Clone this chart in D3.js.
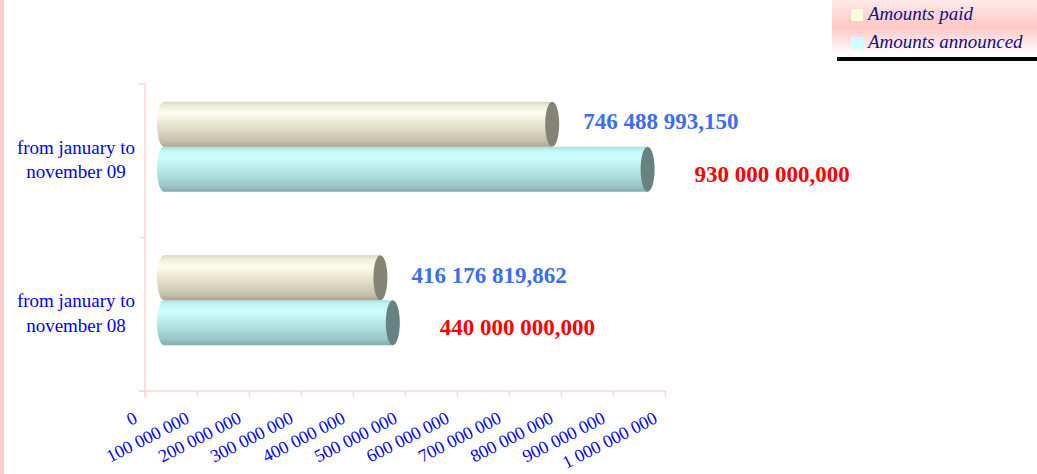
<!DOCTYPE html>
<html>
<head>
<meta charset="utf-8">
<script src="https://cdn.jsdelivr.net/npm/d3@7"></script>
<style>
  body { margin: 0; background: #fff; }
  svg { display: block; }
</style>
</head>
<body>
<div id="chart"></div>
<script>
var widthsvg = 1037;
var heightsvg = 474;

// data
var categories = ["from january to november 09", "from january to november 08"];
var categoryLines = [["from january to", "november 09"], ["from january to", "november 08"]];
var seriesNames = ["Amounts paid", "Amounts announced"];
var paidValues = [746488993.150, 416176819.862];
var announcedValues = [930000000, 440000000];
var tickValues = [0, 100000000, 200000000, 300000000, 400000000, 500000000,
                  600000000, 700000000, 800000000, 900000000, 1000000000];

var plot = {left: 145, right: 665, top: 84, bottom: 391};
var depth = {dx: 19, dy: -14};

var fr = d3.formatLocale({decimal: ",", thousands: " ", grouping: [3], currency: ["", ""]});
var fmtValue = fr.format(",.3f");
var frTick = d3.formatLocale({decimal: ",", thousands: "\u00a0", grouping: [3], currency: ["", ""]});
var fmtTick = frTick.format(",d");

var svg = d3.select("#chart")
    .append("svg")
    .attr("width", widthsvg)
    .attr("height", heightsvg);

var defs = svg.append("defs");

function cylGrad(id, stops) {
    var g = defs.append("linearGradient").attr("id", id)
        .attr("x1", 0).attr("y1", 0).attr("x2", 0).attr("y2", 1);
    stops.forEach(function(s) {
        g.append("stop").attr("offset", s[0]).attr("stop-color", s[1]);
    });
}
cylGrad("gPaid", [[0, "#d8d4be"], [0.08, "#eeecd8"], [0.25, "#fdfdec"], [0.45, "#ecead6"],
                  [0.7, "#d6d2bc"], [0.88, "#c4c0aa"], [1, "#aaa692"]]);
cylGrad("gAnn", [[0, "#a8dcdc"], [0.08, "#c2f4f4"], [0.25, "#ccffff"], [0.45, "#bcecec"],
                 [0.7, "#a8d8d8"], [0.88, "#98c4c4"], [1, "#84acac"]]);

var legGrad = defs.append("linearGradient").attr("id", "gLeg")
    .attr("x1", 0).attr("y1", 0).attr("x2", 0).attr("y2", 1);
legGrad.append("stop").attr("offset", 0).attr("stop-color", "#ffeaea");
legGrad.append("stop").attr("offset", 0.5).attr("stop-color", "#ffc6c6");
legGrad.append("stop").attr("offset", 1).attr("stop-color", "#ffffff");

// left pink strip
svg.append("rect").attr("x", 0).attr("y", 0).attr("width", 4).attr("height", heightsvg)
    .attr("fill", "#ffcccc");

var x = d3.scaleLinear().domain([0, 1000000000]).range([plot.left, plot.right]);
var y = d3.scaleBand().domain(categories).range([plot.top, plot.bottom]);
var ySeries = d3.scaleBand().domain(seriesNames).range([0, y.bandwidth()])
    .paddingInner(0).paddingOuter(0.706);

var axisColor = "#ffd4d4";

// bottom axis
var xAxis = d3.axisBottom(x).tickValues(tickValues).tickSize(6).tickSizeOuter(0)
    .tickFormat(fmtTick);
var gx = svg.append("g")
    .attr("transform", "translate(0," + plot.bottom + ")")
    .call(xAxis);
gx.select(".domain").attr("stroke", axisColor).attr("stroke-width", 1.5)
    .attr("d", "M" + (plot.left - 6) + ",0H" + plot.right);
gx.selectAll(".tick line").attr("stroke", axisColor).attr("stroke-width", 1.5);
gx.selectAll(".tick text")
    .attr("x", 0).attr("y", 0).attr("dy", 0)
    .attr("transform", "translate(-7,31) rotate(-27)")
    .attr("text-anchor", "end")
    .attr("fill", "#0000ff")
    .style("font-family", "'Liberation Serif', 'Times New Roman', serif")
    .style("font-size", "18px");

// left axis
svg.append("line")
    .attr("x1", plot.left).attr("x2", plot.left)
    .attr("y1", plot.top).attr("y2", plot.bottom + 6)
    .attr("stroke", axisColor).attr("stroke-width", 1.5);
var edges = categories.map(function(c) { return y(c); }).concat([plot.bottom]);
svg.selectAll(".ytick").data(edges).enter().append("line")
    .attr("class", "ytick")
    .attr("x1", plot.left - 6).attr("x2", plot.left)
    .attr("y1", function(d) { return d; }).attr("y2", function(d) { return d; })
    .attr("stroke", axisColor).attr("stroke-width", 1.5);

// category labels
var catG = svg.selectAll(".cat").data(categories).enter().append("text")
    .attr("class", "cat")
    .attr("x", 76)
    .attr("y", function(d) { return y(d) + y.bandwidth() / 2 - 7; })
    .attr("text-anchor", "middle")
    .attr("fill", "#0000ff")
    .style("font-family", "'Liberation Serif', 'Times New Roman', serif")
    .style("font-size", "19px");
catG.each(function(d, i) {
    var t = d3.select(this);
    categoryLines[i].forEach(function(line, j) {
        t.append("tspan").attr("x", 76).attr("dy", j === 0 ? 0 : 24.5).text(line);
    });
});

// bars
var rx = 7;
var barData = [];
categories.forEach(function(c, i) {
    barData.push({cat: c, series: seriesNames[1], value: announcedValues[i], fill: "url(#gAnn)",
                  cap: "#668282", color: "#ff0000", off: 47, base: 12.5});
    barData.push({cat: c, series: seriesNames[0], value: paidValues[i], fill: "url(#gPaid)",
                  cap: "#848474", color: "#3a6cf4", off: 31, base: 5});
});

var bars = svg.selectAll(".bar").data(barData).enter().append("g").attr("class", "bar")
    .attr("transform", function(d) {
        return "translate(" + depth.dx + "," + (depth.dy + y(d.cat) + ySeries(d.series)) + ")";
    });
var h = ySeries.bandwidth();
bars.append("ellipse")
    .attr("cx", x(0)).attr("cy", h / 2).attr("rx", rx).attr("ry", h / 2)
    .attr("fill", function(d) { return d.fill; });
bars.append("rect")
    .attr("x", x(0)).attr("y", 0)
    .attr("width", function(d) { return x(d.value) - x(0); })
    .attr("height", h)
    .attr("fill", function(d) { return d.fill; });
bars.append("ellipse")
    .attr("cx", function(d) { return x(d.value); }).attr("cy", h / 2)
    .attr("rx", rx).attr("ry", h / 2)
    .attr("fill", function(d) { return d.cap; });

// value labels
bars.append("text")
    .attr("x", function(d) { return x(d.value) + d.off; })
    .attr("y", function(d) { return h / 2 + d.base; })
    .attr("fill", function(d) { return d.color; })
    .style("font-family", "'Liberation Serif', 'Times New Roman', serif")
    .style("font-weight", "bold")
    .style("font-size", "23px")
    .text(function(d) { return fmtValue(d.value); });

// legend
var leg = svg.append("g");
leg.append("rect").attr("x", 832).attr("y", 0).attr("width", 205).attr("height", 54)
    .attr("fill", "url(#gLeg)");
leg.append("rect").attr("x", 837).attr("y", 57).attr("width", 200).attr("height", 4)
    .attr("fill", "#000");
var swatch = ["#ffffdc", "#ccffff"];
var li = leg.selectAll(".li").data(seriesNames).enter().append("g").attr("class", "li")
    .attr("transform", function(d, i) { return "translate(851," + (9 + i * 28) + ")"; });
li.append("rect").attr("width", 12).attr("height", 12)
    .attr("fill", function(d, i) { return swatch[i]; });
li.append("text").attr("x", 17).attr("y", 11)
    .attr("fill", "#10108a")
    .style("font-family", "'Liberation Serif', 'Times New Roman', serif")
    .style("font-style", "italic")
    .style("font-size", "19px")
    .text(function(d) { return d; });
</script>
</body>
</html>
